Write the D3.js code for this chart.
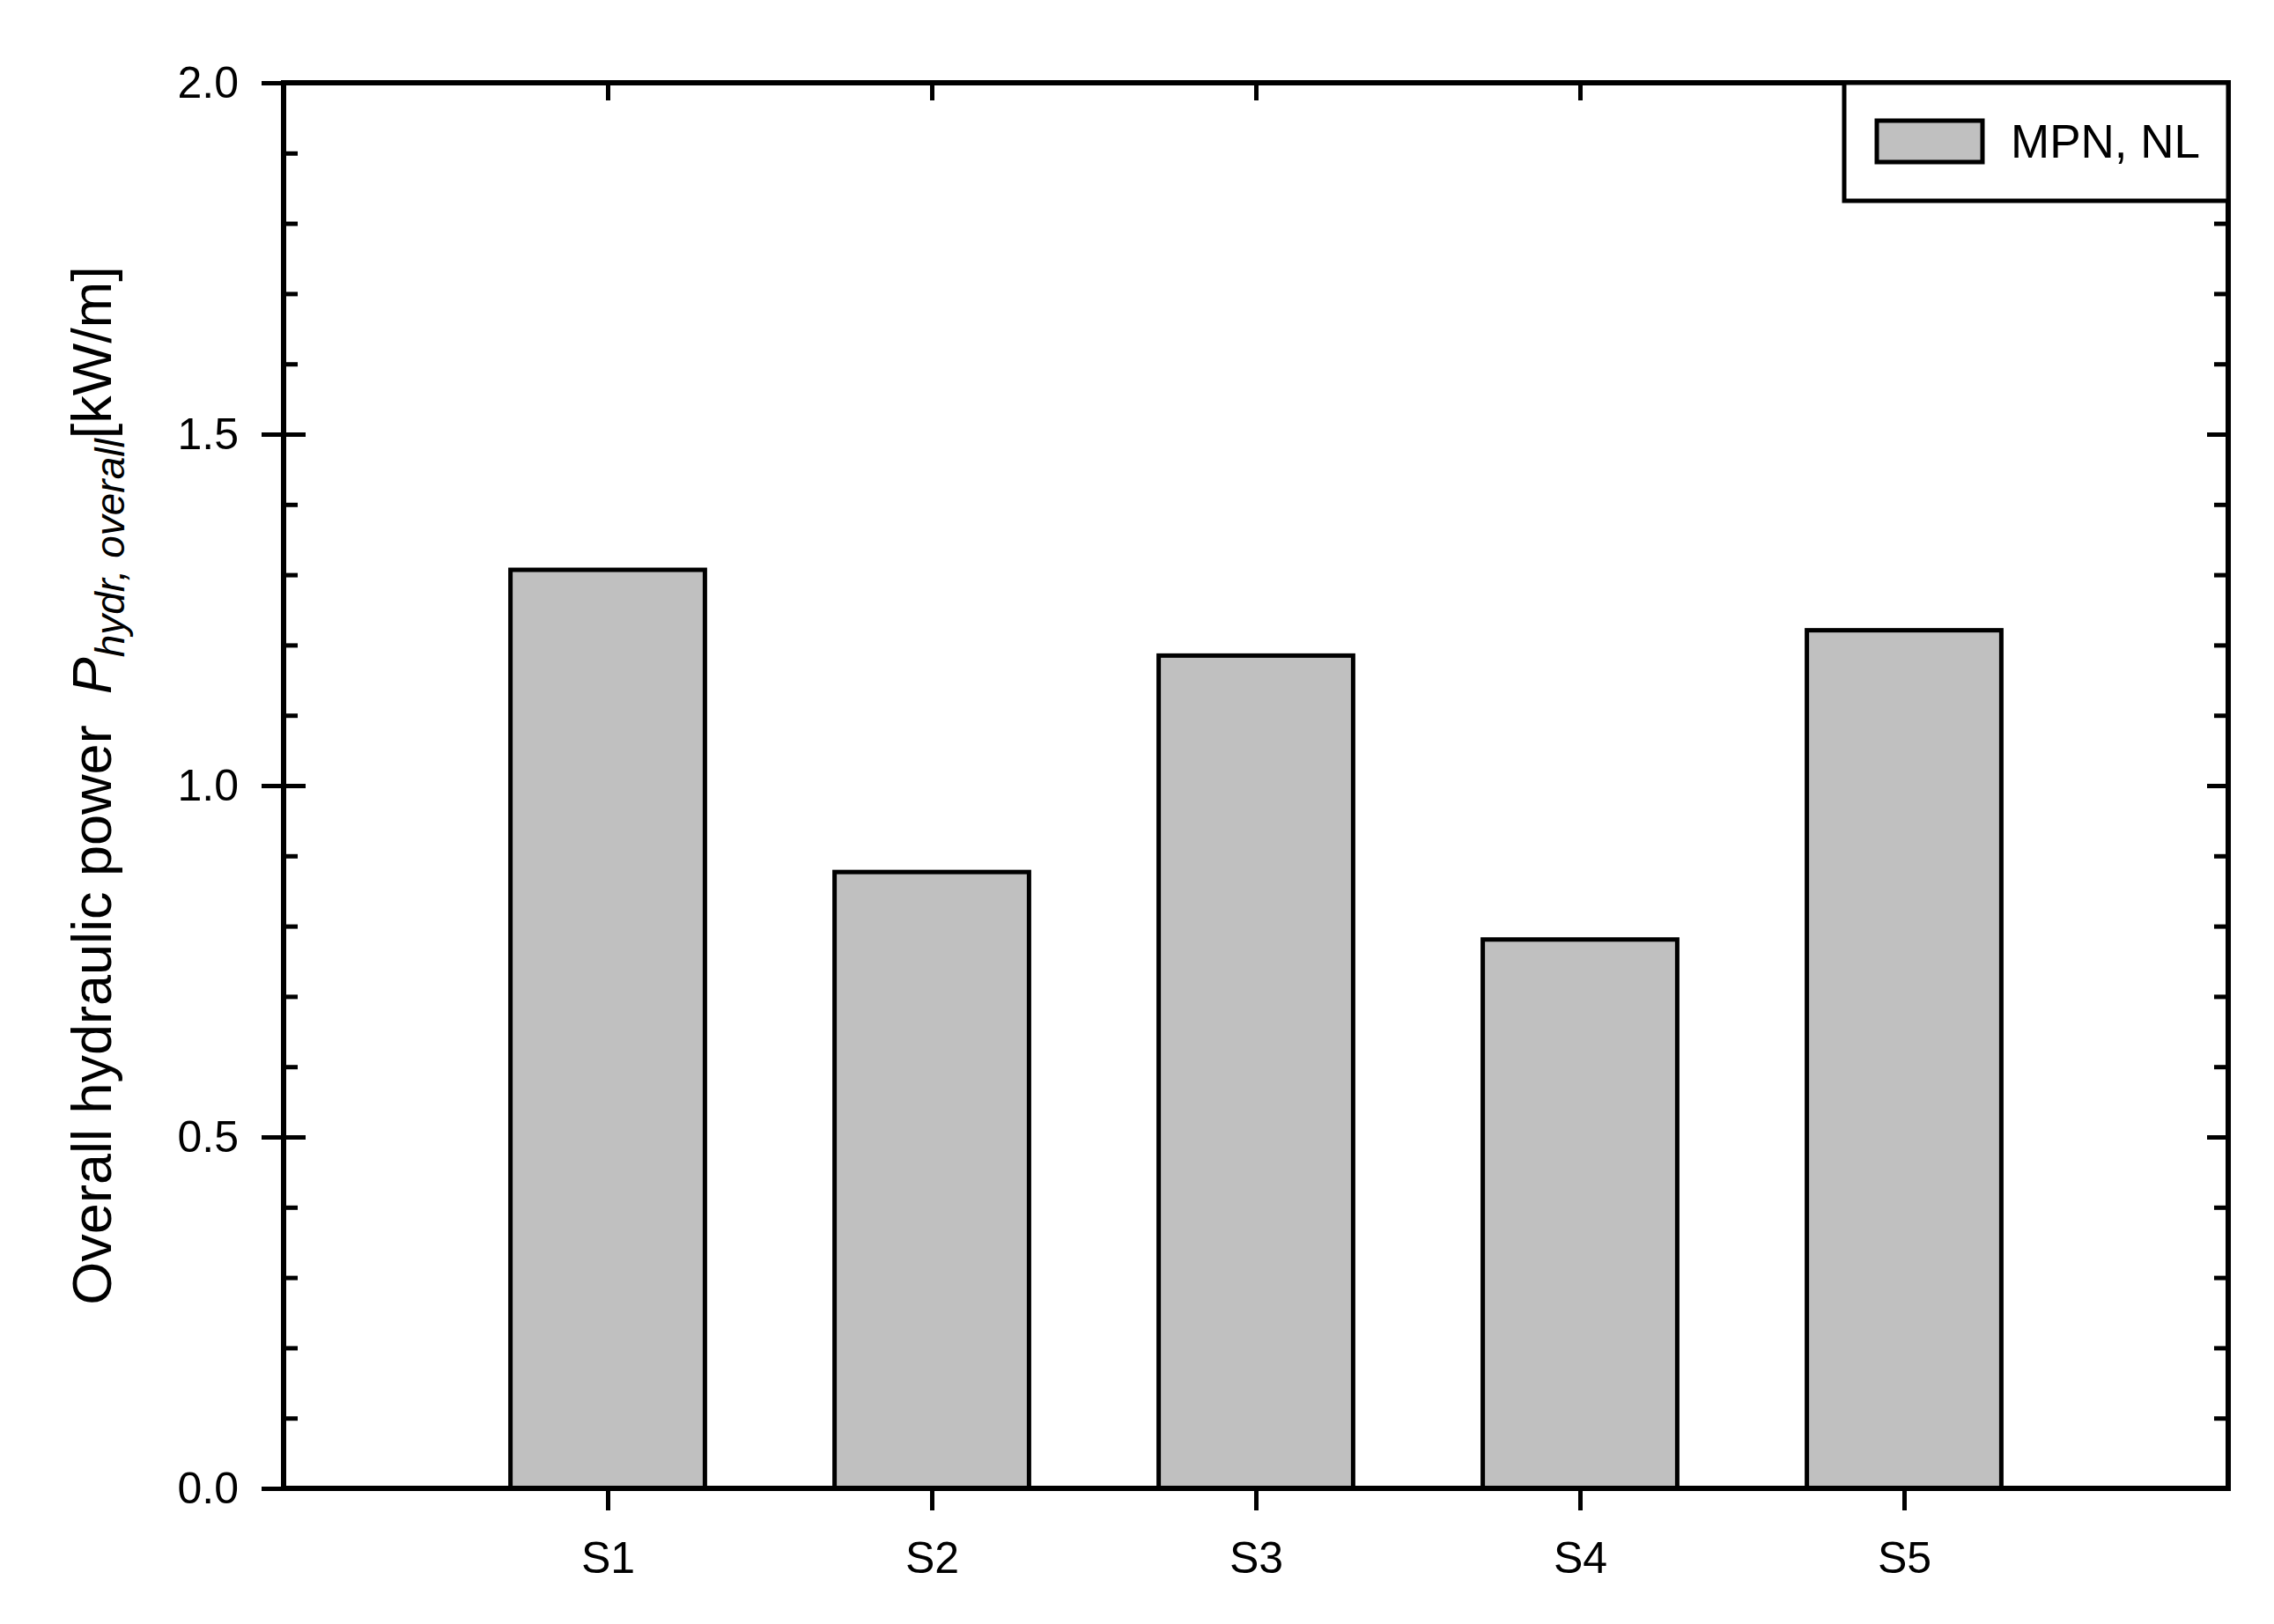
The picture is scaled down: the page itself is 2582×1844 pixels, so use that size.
<!DOCTYPE html>
<head>
  <meta charset="utf-8">
  <script src="https://d3js.org/d3.v7.min.js"></script>
  <style>
body { margin: 0; background: #fff; }
text { font-family: "Liberation Sans", Arial, sans-serif; fill: #000; }
.axis path.domain { display: none; }
.axis line { stroke: #000; stroke-width: 5px; }
.axis text { font-size: 50px; }
  </style>
</head>

<body>
  <script>
    // data
    var categories = ["S1", "S2", "S3", "S4", "S5"];
    var power = [1.307, 0.877, 1.185, 0.781, 1.221];
    var majorTicks = [0.0, 0.5, 1.0, 1.5, 2.0];
    var minorTicks = [0.1, 0.2, 0.3, 0.4, 0.6, 0.7, 0.8, 0.9, 1.1, 1.2, 1.3, 1.4, 1.6, 1.7, 1.8, 1.9];
    var seriesName = "MPN, NL";

    var W = 2582, H = 1844;
    var x0 = 322, x1 = 2530, y0 = 1690, y1 = 94;

    var svg = d3.select("body").append("svg")
      .attr("width", W)
      .attr("height", H);

    // categories sit at 1..5 on a 0..6 axis
    var x = d3.scaleLinear().domain([0, categories.length + 1]).range([x0, x1]);
    var y = d3.scaleLinear().domain([0, 2]).range([y0, y1]);
    var step = x(1) - x(0);
    var barW = step * 0.6;
    var pos = categories.map((c, i) => i + 1);

    // bars
    svg.append("g").selectAll("rect")
      .data(power)
      .enter().append("rect")
      .attr("x", (d, i) => x(i + 1) - barW / 2)
      .attr("y", d => y(d))
      .attr("width", barW)
      .attr("height", d => y(0) - y(d))
      .style("fill", "#c0c0c0")
      .style("stroke", "#000")
      .style("stroke-width", 5);

    // left axis: labels + outward half of the major ticks
    svg.append("g").attr("class", "axis")
      .attr("transform", "translate(" + x0 + ",0)")
      .call(d3.axisLeft(y).tickValues(majorTicks).tickSize(25).tickPadding(26).tickFormat(d3.format(".1f")));
    // inner halves, left
    svg.append("g").attr("class", "axis")
      .attr("transform", "translate(" + x0 + ",0)")
      .call(d3.axisRight(y).tickValues(majorTicks).tickSize(25).tickFormat(""));
    svg.append("g").attr("class", "axis")
      .attr("transform", "translate(" + x0 + ",0)")
      .call(d3.axisRight(y).tickValues(minorTicks).tickSize(16).tickFormat(""));
    // right axis, inward ticks
    svg.append("g").attr("class", "axis")
      .attr("transform", "translate(" + x1 + ",0)")
      .call(d3.axisLeft(y).tickValues(majorTicks).tickSize(24).tickFormat(""));
    svg.append("g").attr("class", "axis")
      .attr("transform", "translate(" + x1 + ",0)")
      .call(d3.axisLeft(y).tickValues(minorTicks).tickSize(16).tickFormat(""));

    // bottom axis
    svg.append("g").attr("class", "axis")
      .attr("transform", "translate(0," + y0 + ")")
      .call(d3.axisBottom(x).tickValues(pos).tickSize(25).tickPadding(35).tickFormat(d => categories[d - 1]));
    // top axis, inward ticks
    svg.append("g").attr("class", "axis")
      .attr("transform", "translate(0," + y1 + ")")
      .call(d3.axisBottom(x).tickValues(pos).tickSize(20).tickFormat(""));

    // frame
    svg.append("rect")
      .attr("x", x0).attr("y", y1)
      .attr("width", x1 - x0).attr("height", y0 - y1)
      .style("fill", "none").style("stroke", "#000").style("stroke-width", 6);

    // legend
    var lg = svg.append("g");
    lg.append("rect")
      .attr("x", 2094).attr("y", y1)
      .attr("width", x1 - 2094).attr("height", 228 - y1)
      .style("fill", "#fff").style("stroke", "#000").style("stroke-width", 5);
    lg.append("rect")
      .attr("x", 2131).attr("y", 137)
      .attr("width", 120).attr("height", 47)
      .style("fill", "#c0c0c0").style("stroke", "#000").style("stroke-width", 5);
    lg.append("text")
      .attr("x", 2283).attr("y", 179)
      .style("font-size", "53px")
      .text(seriesName);

    // y title
    var t = svg.append("text")
      .attr("transform", "translate(126," + (y0 + y1) / 2 + ") rotate(-90)")
      .attr("text-anchor", "middle")
      .style("font-size", "63px");
    t.append("tspan").text("Overall hydraulic power\u00a0\u00a0");
    t.append("tspan").style("font-style", "italic").text("P");
    t.append("tspan").style("font-style", "italic").style("font-size", "46px").attr("dy", 15).text("hydr, overall");
    t.append("tspan").attr("dy", -15).text("[kW/m]");
  </script>
</body>
